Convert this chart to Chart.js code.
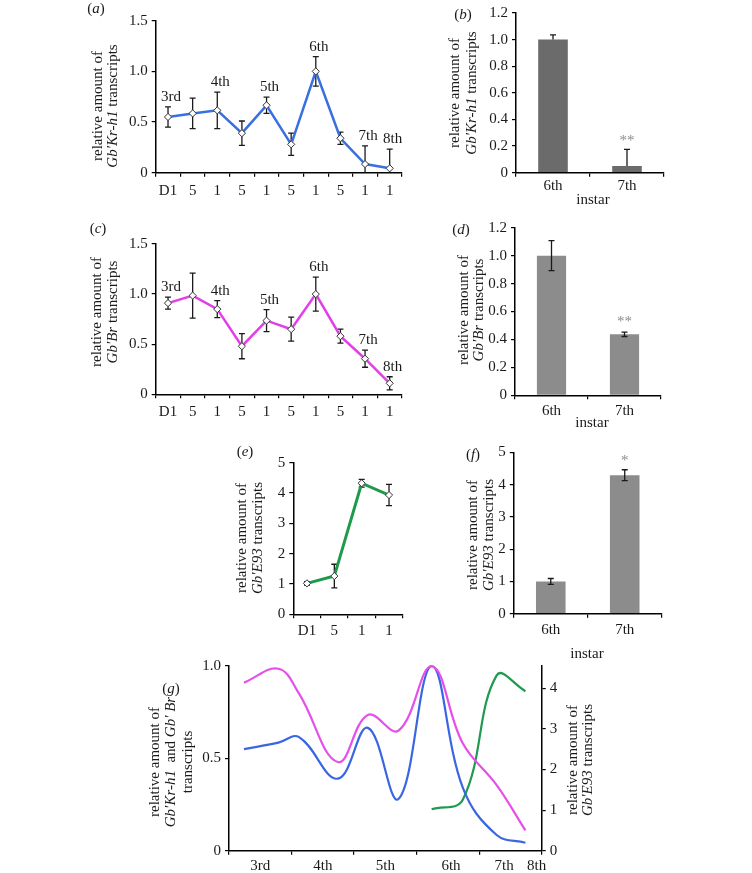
<!DOCTYPE html>
<html>
<head>
<meta charset="utf-8">
<script src="https://cdn.jsdelivr.net/npm/chart.js@4.4.0/dist/chart.umd.min.js"></script>
<style>
html,body{margin:0;padding:0;background:#fff;}
#wrap{position:relative;width:752px;height:873px;overflow:hidden;}
#wrap canvas{position:absolute;left:0;top:0;}
</style>
</head>
<body>
<div id="wrap">
<canvas id="ca" width="752" height="873"></canvas>
<canvas id="cb" width="752" height="873"></canvas>
<canvas id="cc" width="752" height="873"></canvas>
<canvas id="cd" width="752" height="873"></canvas>
<canvas id="ce" width="752" height="873"></canvas>
<canvas id="cf" width="752" height="873"></canvas>
<canvas id="cg" width="752" height="873"></canvas>
</div>
<script>
// data
var dayLabels = ['D1','5','1','5','1','5','1','5','1','1'];
var krh1 = [0.55,0.585,0.615,0.39,0.665,0.28,1.0,0.34,0.085,0.043];
var krh1Err = [0.10,0.15,0.18,0.12,0.08,0.11,0.145,0.06,0.18,0.19];
var br = [0.91,0.985,0.85,0.48,0.735,0.65,1.0,0.58,0.355,0.11];
var brErr = [0.06,0.225,0.085,0.125,0.11,0.12,0.17,0.07,0.085,0.065];
var stageLabels = ['3rd','4th','5th','6th','7th','8th'];
var stageAt = [0,2,4,6,8,9];

var e93Labels = ['D1','5','1','1'];
var e93 = [1.02,1.26,4.32,3.93];
var e93Err = [0.06,0.39,0.13,0.35];

var instarLabels = ['6th','7th'];
var krh1Bar = [1.0,0.05];
var krh1BarErr = [0.035,0.125];
var krh1Sig = ['','**'];
var brBar = [1.0,0.437];
var brBarErr = [0.107,0.016];
var brSig = ['','**'];
var e93Bar = [1.0,4.29];
var e93BarErr = [0.09,0.17];
var e93Sig = ['','*'];

// panel g: time position of each sample on the instar axis
var gTime = [0.24,0.79,1.12,1.74,2.22,2.71,3.24,3.74,4.28,4.74];
var gE93Time = [3.24,3.74,4.28,4.74];
var gTickLabels = ['3rd','4th','5th','6th','7th','8th'];
var gTickAt = [0.5,1.5,2.5,3.55,4.4,4.92];

var INK = '#1a1a1a';
var FONT = '"Liberation Serif","Times New Roman",serif';
Chart.defaults.font.family = FONT;
Chart.defaults.font.size = 15;
Chart.defaults.color = INK;

function runFont(r, size){ return (r.i ? 'italic ' : '') + size + 'px ' + FONT; }
function drawRuns(ctx, runs, x, y, size, rot){
  ctx.save();
  ctx.translate(x, y);
  if (rot) ctx.rotate(rot);
  var w = 0;
  runs.forEach(function(r){ ctx.font = runFont(r, size); w += ctx.measureText(r.t).width; });
  var cx = -w / 2;
  ctx.textBaseline = 'middle';
  ctx.textAlign = 'left';
  runs.forEach(function(r){
    ctx.font = runFont(r, size);
    ctx.fillStyle = r.c || INK;
    ctx.fillText(r.t, cx, 0);
    cx += ctx.measureText(r.t).width;
  });
  ctx.restore();
}

function errorPlugin(o){
  function draw(chart, i){
    var ds = chart.data.datasets[i];
    if (!ds.errors) return;
    var meta = chart.getDatasetMeta(i), ys = chart.scales[meta.yAxisID];
    var a = chart.chartArea, ctx = chart.ctx, cap = o.cap || 3;
    ctx.save();
    ctx.beginPath();
    ctx.rect(a.left, a.top - 30, a.right - a.left, a.bottom - a.top + 30);
    ctx.clip();
    ctx.strokeStyle = INK;
    ctx.lineWidth = 1.3;
    meta.data.forEach(function(el, j){
      var v = ds.data[j], e = ds.errors[j];
      var t = ys.getPixelForValue(v + e);
      var b = ys.getPixelForValue(o.upOnly ? v : v - e);
      ctx.beginPath();
      ctx.moveTo(el.x, t); ctx.lineTo(el.x, b);
      ctx.moveTo(el.x - cap, t); ctx.lineTo(el.x + cap, t);
      if (!o.upOnly) { ctx.moveTo(el.x - cap, b); ctx.lineTo(el.x + cap, b); }
      ctx.stroke();
    });
    ctx.restore();
  }
  return {
    id: 'errorBars',
    beforeDatasetDraw: function(chart, args){ if (!o.front) draw(chart, args.index); },
    afterDatasetDraw: function(chart, args){ if (o.front) draw(chart, args.index); }
  };
}

function decorPlugin(o){
  return {
    id: 'decor',
    afterDraw: function(chart){
      var ctx = chart.ctx;
      if (o.letter) drawRuns(ctx, [{t:'('},{t:o.letter.t, i:true},{t:')'}], o.letter.x, o.letter.y, 15);
      (o.titles || []).forEach(function(tt){
        tt.lines.forEach(function(runs, k){ drawRuns(ctx, runs, tt.x[k], tt.y, 15, -Math.PI / 2); });
      });
      (o.texts || []).forEach(function(t){ drawRuns(ctx, [{t:t.t}], t.x, t.y, 15); });
      if (o.marks) {
        var ds = chart.data.datasets[0], meta = chart.getDatasetMeta(0), ys = chart.scales[meta.yAxisID];
        o.marks.labels.forEach(function(lab, k){
          if (!lab) return;
          var j = o.marks.at ? o.marks.at[k] : k;
          var el = meta.data[j];
          var y = ys.getPixelForValue(ds.data[j] + ds.errors[j]) - o.marks.dy;
          drawRuns(ctx, [{t:lab, c:o.marks.color}], el.x + (o.marks.dx || 0), y, o.marks.size || 15);
        });
      }
    }
  };
}

function place(area, W, H, W2){
  return { left: area.l - W, right: 752 - area.r - (W2 || 0), top: area.t, bottom: 873 - area.b - H };
}
function fmt1(v){ return v === 0 ? '0' : v.toFixed(1); }
function fmt0(v){ return String(Math.round(v)); }

function yLin(max, step, fmt, W, pos){
  return {
    position: pos || 'left', min: 0, max: max,
    afterFit: function(s){ s.width = W; },
    ticks: { stepSize: step, padding: 4, color: INK, callback: fmt },
    grid: { drawOnChartArea: false, tickLength: 4, color: '#000', lineWidth: 1.2 },
    border: { color: '#000', width: 1.5 }
  };
}
function xCat(pad, H){
  return {
    offset: true,
    afterFit: function(s){ s.height = H; },
    ticks: { padding: pad, autoSkip: false, maxRotation: 0, color: INK },
    grid: { offset: true, drawOnChartArea: false, tickLength: 4, color: '#000', lineWidth: 1.2 },
    border: { color: '#000', width: 1.5 }
  };
}
var base = { responsive: false, animation: false, events: [] };
function opts(area, scales, extra){
  var o = Object.assign({}, base, {
    layout: { padding: place(area, 40, 30, extra) },
    plugins: { legend: { display: false }, tooltip: { enabled: false } },
    scales: scales
  });
  return o;
}
function pointStyle(ds){
  return Object.assign(ds, { tension: 0, pointStyle: 'rectRot', pointRadius: 3.6,
    pointBackgroundColor: '#fff', pointBorderColor: '#333', pointBorderWidth: 1, clip: 8 });
}

var BLUE = '#3a6fe0', PINK = '#e23fe6', GREEN = '#1e9a4b';

// (a)
new Chart(document.getElementById('ca'), {
  type: 'line',
  data: { labels: dayLabels, datasets: [pointStyle({ data: krh1, errors: krh1Err, borderColor: BLUE, borderWidth: 2.5 })] },
  options: opts({l:155.7, r:402, t:20.7, b:172.7}, { x: xCat(5, 30), y: yLin(1.5, 0.5, fmt1, 40) }),
  plugins: [errorPlugin({}), decorPlugin({
    letter: {t:'a', x:96, y:9},
    titles: [{ x:[98,113], y:106, lines:[[{t:'relative amount of'}], [{t:'Gb′Kr-h1', i:true},{t:' transcripts'}]] }],
    marks: { labels: stageLabels, at: stageAt, dy: 10, dx: 3 }
  })]
});

// (b)
new Chart(document.getElementById('cb'), {
  type: 'bar',
  data: { labels: instarLabels, datasets: [{ data: krh1Bar, errors: krh1BarErr, backgroundColor: '#6b6b6b', barPercentage: 0.4, categoryPercentage: 1 }] },
  options: opts({l:516, r:664, t:12.3, b:172.7}, { x: xCat(0, 30), y: yLin(1.2, 0.2, fmt1, 40) }),
  plugins: [errorPlugin({front: true, upOnly: true}), decorPlugin({
    letter: {t:'b', x:463, y:15},
    titles: [{ x:[455,472], y:93, lines:[[{t:'relative amount of'}], [{t:'Gb′Kr-h1', i:true},{t:' transcripts'}]] }],
    texts: [{t:'instar', x:593, y:200}],
    marks: { labels: krh1Sig, dy: 8, color: '#8a8a8a' }
  })]
});

// (c)
new Chart(document.getElementById('cc'), {
  type: 'line',
  data: { labels: dayLabels, datasets: [pointStyle({ data: br, errors: brErr, borderColor: PINK, borderWidth: 2.5 })] },
  options: opts({l:155.7, r:402, t:244, b:394.3}, { x: xCat(5, 30), y: yLin(1.5, 0.5, fmt1, 40) }),
  plugins: [errorPlugin({}), decorPlugin({
    letter: {t:'c', x:98, y:229},
    titles: [{ x:[97,113], y:312, lines:[[{t:'relative amount of'}], [{t:'Gb′Br', i:true},{t:' transcripts'}]] }],
    marks: { labels: stageLabels, at: stageAt, dy: 10, dx: 3 }
  })]
});

// (d)
new Chart(document.getElementById('cd'), {
  type: 'bar',
  data: { labels: instarLabels, datasets: [{ data: brBar, errors: brBarErr, backgroundColor: '#8c8c8c', barPercentage: 0.4, categoryPercentage: 1 }] },
  options: opts({l:515, r:661, t:227.7, b:395.3}, { x: xCat(3, 30), y: yLin(1.2, 0.2, fmt1, 40) }),
  plugins: [errorPlugin({front: true}), decorPlugin({
    letter: {t:'d', x:461, y:230},
    titles: [{ x:[464,479], y:310, lines:[[{t:'relative amount of'}], [{t:'Gb′Br', i:true},{t:' transcripts'}]] }],
    texts: [{t:'instar', x:592, y:423}],
    marks: { labels: brSig, dy: 10, color: '#8a8a8a' }
  })]
});

// (e)
new Chart(document.getElementById('ce'), {
  type: 'line',
  data: { labels: e93Labels, datasets: [pointStyle({ data: e93, errors: e93Err, borderColor: GREEN, borderWidth: 3 })] },
  options: opts({l:293.3, r:402.7, t:462.6, b:614.3}, { x: xCat(4, 30), y: yLin(5, 1, fmt0, 40) }),
  plugins: [errorPlugin({}), decorPlugin({
    letter: {t:'e', x:245, y:452},
    titles: [{ x:[242,258], y:538, lines:[[{t:'relative amount of'}], [{t:'Gb′E93', i:true},{t:' transcripts'}]] }]
  })]
});

// (f)
new Chart(document.getElementById('cf'), {
  type: 'bar',
  data: { labels: instarLabels, datasets: [{ data: e93Bar, errors: e93BarErr, backgroundColor: '#8c8c8c', barPercentage: 0.4, categoryPercentage: 1 }] },
  options: opts({l:513.8, r:661.7, t:452.3, b:613.7}, { x: xCat(3, 30), y: yLin(5, 1, fmt0, 40) }),
  plugins: [errorPlugin({front: true}), decorPlugin({
    letter: {t:'f', x:473, y:455},
    titles: [{ x:[473,489], y:535, lines:[[{t:'relative amount of'}], [{t:'Gb′E93', i:true},{t:' transcripts'}]] }],
    texts: [{t:'instar', x:587, y:654}],
    marks: { labels: e93Sig, dy: 9, color: '#8a8a8a' }
  })]
});

// (g)
var gTicks = [0,1,2,3,4,5].concat(gTickAt).sort(function(a, b){ return a - b; });
function curve(times, vals){ return vals.map(function(v, j){ return { x: times[j], y: v }; }); }
var gx = {
  type: 'linear', min: 0, max: 5,
  afterBuildTicks: function(s){ s.ticks = gTicks.map(function(v){ return { value: v }; }); },
  afterFit: function(s){ s.height = 30; },
  ticks: { padding: 2, autoSkip: false, maxRotation: 0, color: INK,
    callback: function(v){ var k = gTickAt.indexOf(v); return k < 0 ? '' : gTickLabels[k]; } },
  grid: { drawOnChartArea: false, tickLength: 4, lineWidth: 1.2,
    tickColor: function(c){ return Number.isInteger(c.tick.value) ? '#000' : 'rgba(0,0,0,0)'; } },
  border: { color: '#000', width: 1.5 }
};
var gyRight = yLin(4.55, 1, fmt0, 30, 'right');
gyRight.afterBuildTicks = function(s){ s.ticks = [0,1,2,3,4].map(function(v){ return { value: v }; }); };
new Chart(document.getElementById('cg'), {
  type: 'line',
  data: { datasets: [
    { data: curve(gTime, br), borderColor: '#e650e8', borderWidth: 2.2, tension: 0.4, pointRadius: 0, yAxisID: 'y', clip: 6 },
    { data: curve(gTime, krh1), borderColor: '#3b66e3', borderWidth: 2.2, tension: 0.4, pointRadius: 0, yAxisID: 'y', clip: 6 },
    { data: curve(gE93Time, e93), borderColor: '#1f9a50', borderWidth: 2.2, tension: 0.4, pointRadius: 0, yAxisID: 'y2', clip: 6 }
  ] },
  options: opts({l:229, r:541.7, t:666, b:850.7}, { x: gx, y: yLin(1, 0.5, fmt1, 40), y2: gyRight }, 30),
  plugins: [decorPlugin({
    letter: {t:'g', x:171, y:689},
    titles: [
      { x:[155,171,188], y:762, lines:[[{t:'relative amount of'}],
        [{t:'Gb′Kr-h1', i:true},{t:'  and '},{t:'Gb′ Br', i:true}], [{t:'transcripts'}]] },
      { x:[573,588], y:760, lines:[[{t:'relative amount of'}], [{t:'Gb′E93', i:true},{t:' transcripts'}]] }
    ]
  })]
});
</script>
</body>
</html>
